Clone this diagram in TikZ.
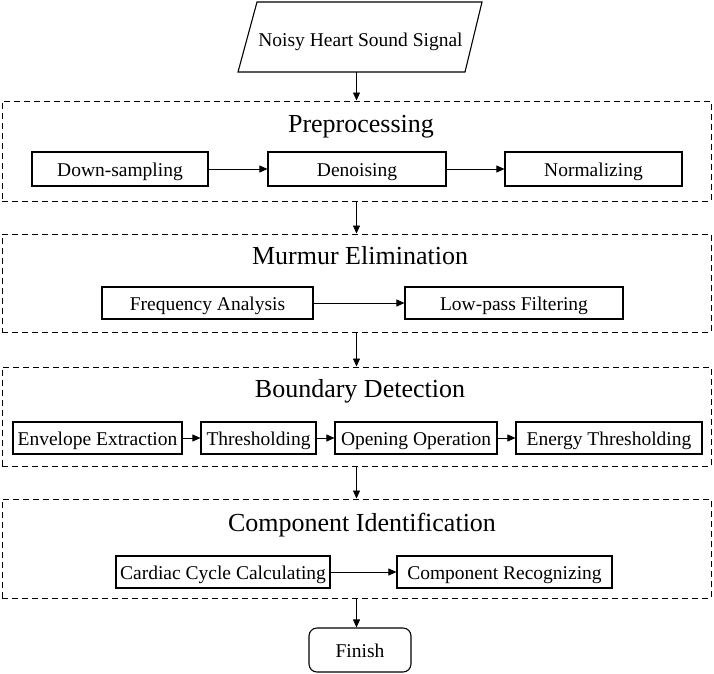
\documentclass[tikz,border=0pt]{standalone}
\usepackage{fontspec}
\setmainfont{Liberation Serif}
\usetikzlibrary{arrows.meta}
\begin{document}
\begin{tikzpicture}[x=1pt,y=-1pt,
  box/.style={draw, line width=1.1pt, inner sep=0pt, text height=15.5pt, text depth=0pt, font=\fontsize{19.5}{22}\selectfont},
  group/.style={draw, line width=1pt, dash pattern=on 6pt off 4pt, inner sep=0pt, minimum width=709pt},
  title/.style={inner sep=0pt, text height=16pt, text depth=0pt, font=\fontsize{26}{30}\selectfont},
  arr/.style={line width=0.8pt, -{Triangle[length=8pt,width=7pt]}}]
\useasboundingbox (0,0) rectangle (714,673);
% input
\node[inner sep=0pt, text height=19pt, text depth=0pt, minimum width=227pt, minimum height=70pt, font=\fontsize{19.5}{22}\selectfont] (in) at (360.5,37) {Noisy Heart Sound Signal};
\draw[line width=1.1pt] (257,2) -- (482,2) -- (465,72) -- (238,72) -- cycle;
% groups
\node[group, minimum height=100pt] (g1) at (356.5,151) {};
\node[group, minimum height=98pt] (g2) at (356.5,283) {};
\node[group, minimum height=99pt] (g3) at (356.5,416.5) {};
\node[group, minimum height=99pt] (g4) at (356.5,548.5) {};
% titles
\node[title] (t1) at (361,124) {Preprocessing};
\node[title] (t2) at (360,256) {Murmur Elimination};
\node[title] (t3) at (360,389) {Boundary Detection};
\node[title] (t4) at (362,523) {Component Identification};
% row 1
\node[box, minimum width=176pt, minimum height=34pt] (a1) at (120,169) {Down-sampling};
\node[box, minimum width=178pt, minimum height=34pt] (a2) at (357,169) {Denoising};
\node[box, minimum width=177pt, minimum height=34pt] (a3) at (593.5,169) {Normalizing};
% row 2
\node[box, minimum width=211pt, minimum height=32pt] (b1) at (207.5,303) {Frequency Analysis};
\node[box, minimum width=218pt, minimum height=32pt] (b2) at (514,303) {Low-pass Filtering};
% row 3
\node[box, minimum width=169pt, minimum height=32pt] (c1) at (97.5,438) {Envelope Extraction};
\node[box, minimum width=115pt, minimum height=32pt] (c2) at (258.5,438) {Thresholding};
\node[box, minimum width=162pt, minimum height=32pt] (c3) at (416,438) {Opening Operation};
\node[box, minimum width=186pt, minimum height=32pt] (c4) at (609,438) {Energy Thresholding};
% row 4
\node[box, minimum width=214pt, minimum height=32pt] (d1) at (223,572) {Cardiac Cycle Calculating};
\node[box, minimum width=215pt, minimum height=32pt] (d2) at (504.5,572) {Component Recognizing};
% finish
\node[box, rounded corners=8pt, minimum width=102pt, minimum height=44pt] (fin) at (360,650) {Finish};
% connectors
\draw[arr] (g1.north |- in.south) -- (g1.north);
\draw[arr] (g1.south) -- (g2.north);
\draw[arr] (g2.south) -- (g3.north);
\draw[arr] (g3.south) -- (g4.north);
\draw[arr] (g4.south) -- (g4.south |- fin.north);
\draw[arr] (a1) -- (a2);
\draw[arr] (a2) -- (a3);
\draw[arr] (b1) -- (b2);
\draw[arr] (c1) -- (c2);
\draw[arr] (c2) -- (c3);
\draw[arr] (c3) -- (c4);
\draw[arr] (d1) -- (d2);
\end{tikzpicture}
\end{document}
